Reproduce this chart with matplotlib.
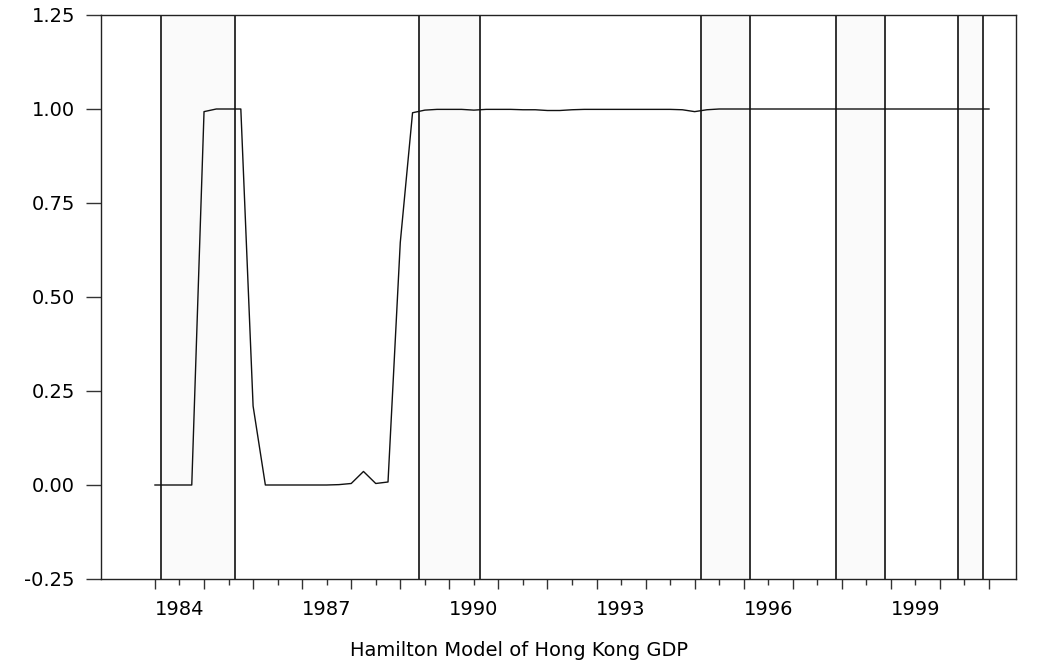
import matplotlib
matplotlib.use("Agg")
import matplotlib.pyplot as plt
from matplotlib.ticker import FixedLocator, FixedFormatter, FuncFormatter

# Smoothed probability of the high-growth regime, quarterly from 1984Q1
first_year = 1984
regime_prob = [
    0.000, 0.000, 0.000, 0.000,   # 1984
    0.993, 1.000, 1.000, 1.000,   # 1985
    0.210, 0.000, 0.000, 0.000,   # 1986
    0.000, 0.000, 0.000, 0.001,   # 1987
    0.004, 0.036, 0.004, 0.008,   # 1988
    0.645, 0.990, 0.997, 0.999,   # 1989
    0.999, 0.999, 0.997, 0.999,   # 1990
    0.999, 0.999, 0.998, 0.998,   # 1991
    0.996, 0.996, 0.998, 0.999,   # 1992
    0.999, 0.999, 0.999, 0.999,   # 1993
    0.999, 0.999, 0.999, 0.998,   # 1994
    0.993, 0.998, 1.000, 1.000,   # 1995
    1.000, 1.000, 1.000, 1.000,   # 1996
    1.000, 1.000, 1.000, 1.000,   # 1997
    1.000, 1.000, 1.000, 1.000,   # 1998
    1.000, 1.000, 1.000, 1.000,   # 1999
    1.000, 1.000, 1.000, 1.000,   # 2000
    1.000,                        # 2001
]

# Recession quarters (first and last quarter of each shaded episode)
shade_first = [1984.25, 1989.50, 1995.25, 1998.00, 2000.50]
shade_last = [1985.50, 1990.50, 1996.00, 1998.75, 2000.75]

label_years = [1984, 1987, 1990, 1993, 1996, 1999]
y_ticks = [-0.25, 0.00, 0.25, 0.50, 0.75, 1.00, 1.25]
title = "Hamilton Model of Hong Kong GDP"

dates = [first_year + i / 4 for i in range(len(regime_prob))]
half_q = 0.125

plt.rcParams["font.family"] = ["DejaVu Sans"]

fig = plt.figure(figsize=(10.45, 6.67), dpi=100)
ax = fig.add_axes([101 / 1045, 1 - 579 / 667, 915 / 1045, 564 / 667])

for s, e in zip(shade_first, shade_last):
    ax.axvspan(s - half_q, e + half_q, facecolor="#fafafa", edgecolor="none", zorder=0)
    ax.axvline(s - half_q, color="#111111", lw=1.2, zorder=1)
    ax.axvline(e + half_q, color="#111111", lw=1.2, zorder=1)

ax.plot(dates, regime_prob, color="#111111", lw=1.0, zorder=3)

ax.set_xlim(1982.9, 2001.55)
ax.set_ylim(-0.25, 1.25)

years = list(range(first_year, 2002))
ax.xaxis.set_major_locator(FixedLocator(years))
ax.xaxis.set_major_formatter(FixedFormatter([""] * len(years)))
halves = [y + 0.5 for y in range(first_year, 2001)]
ax.xaxis.set_minor_locator(FixedLocator(halves))
ax.xaxis.set_minor_formatter(
    FixedFormatter([str(int(h)) if int(h) in label_years else "" for h in halves])
)
ax.tick_params(axis="x", which="major", length=7.2, width=1.0, color="#333333")
ax.tick_params(axis="x", which="minor", length=4.3, width=1.0, color="#333333",
               pad=11, labelsize=14)

ax.set_yticks(y_ticks)
ax.yaxis.set_major_formatter(FuncFormatter(lambda v, p: f"{v:.2f}"))
ax.tick_params(axis="y", length=10.8, width=1.0, color="#333333", pad=8, labelsize=14)

for sp in ax.spines.values():
    sp.set_linewidth(1.0)
    sp.set_color("#222222")

fig.text(519 / 1045, 1 - 650 / 667, title, ha="center", va="center", fontsize=14)

fig.savefig("out.png", dpi=100)
